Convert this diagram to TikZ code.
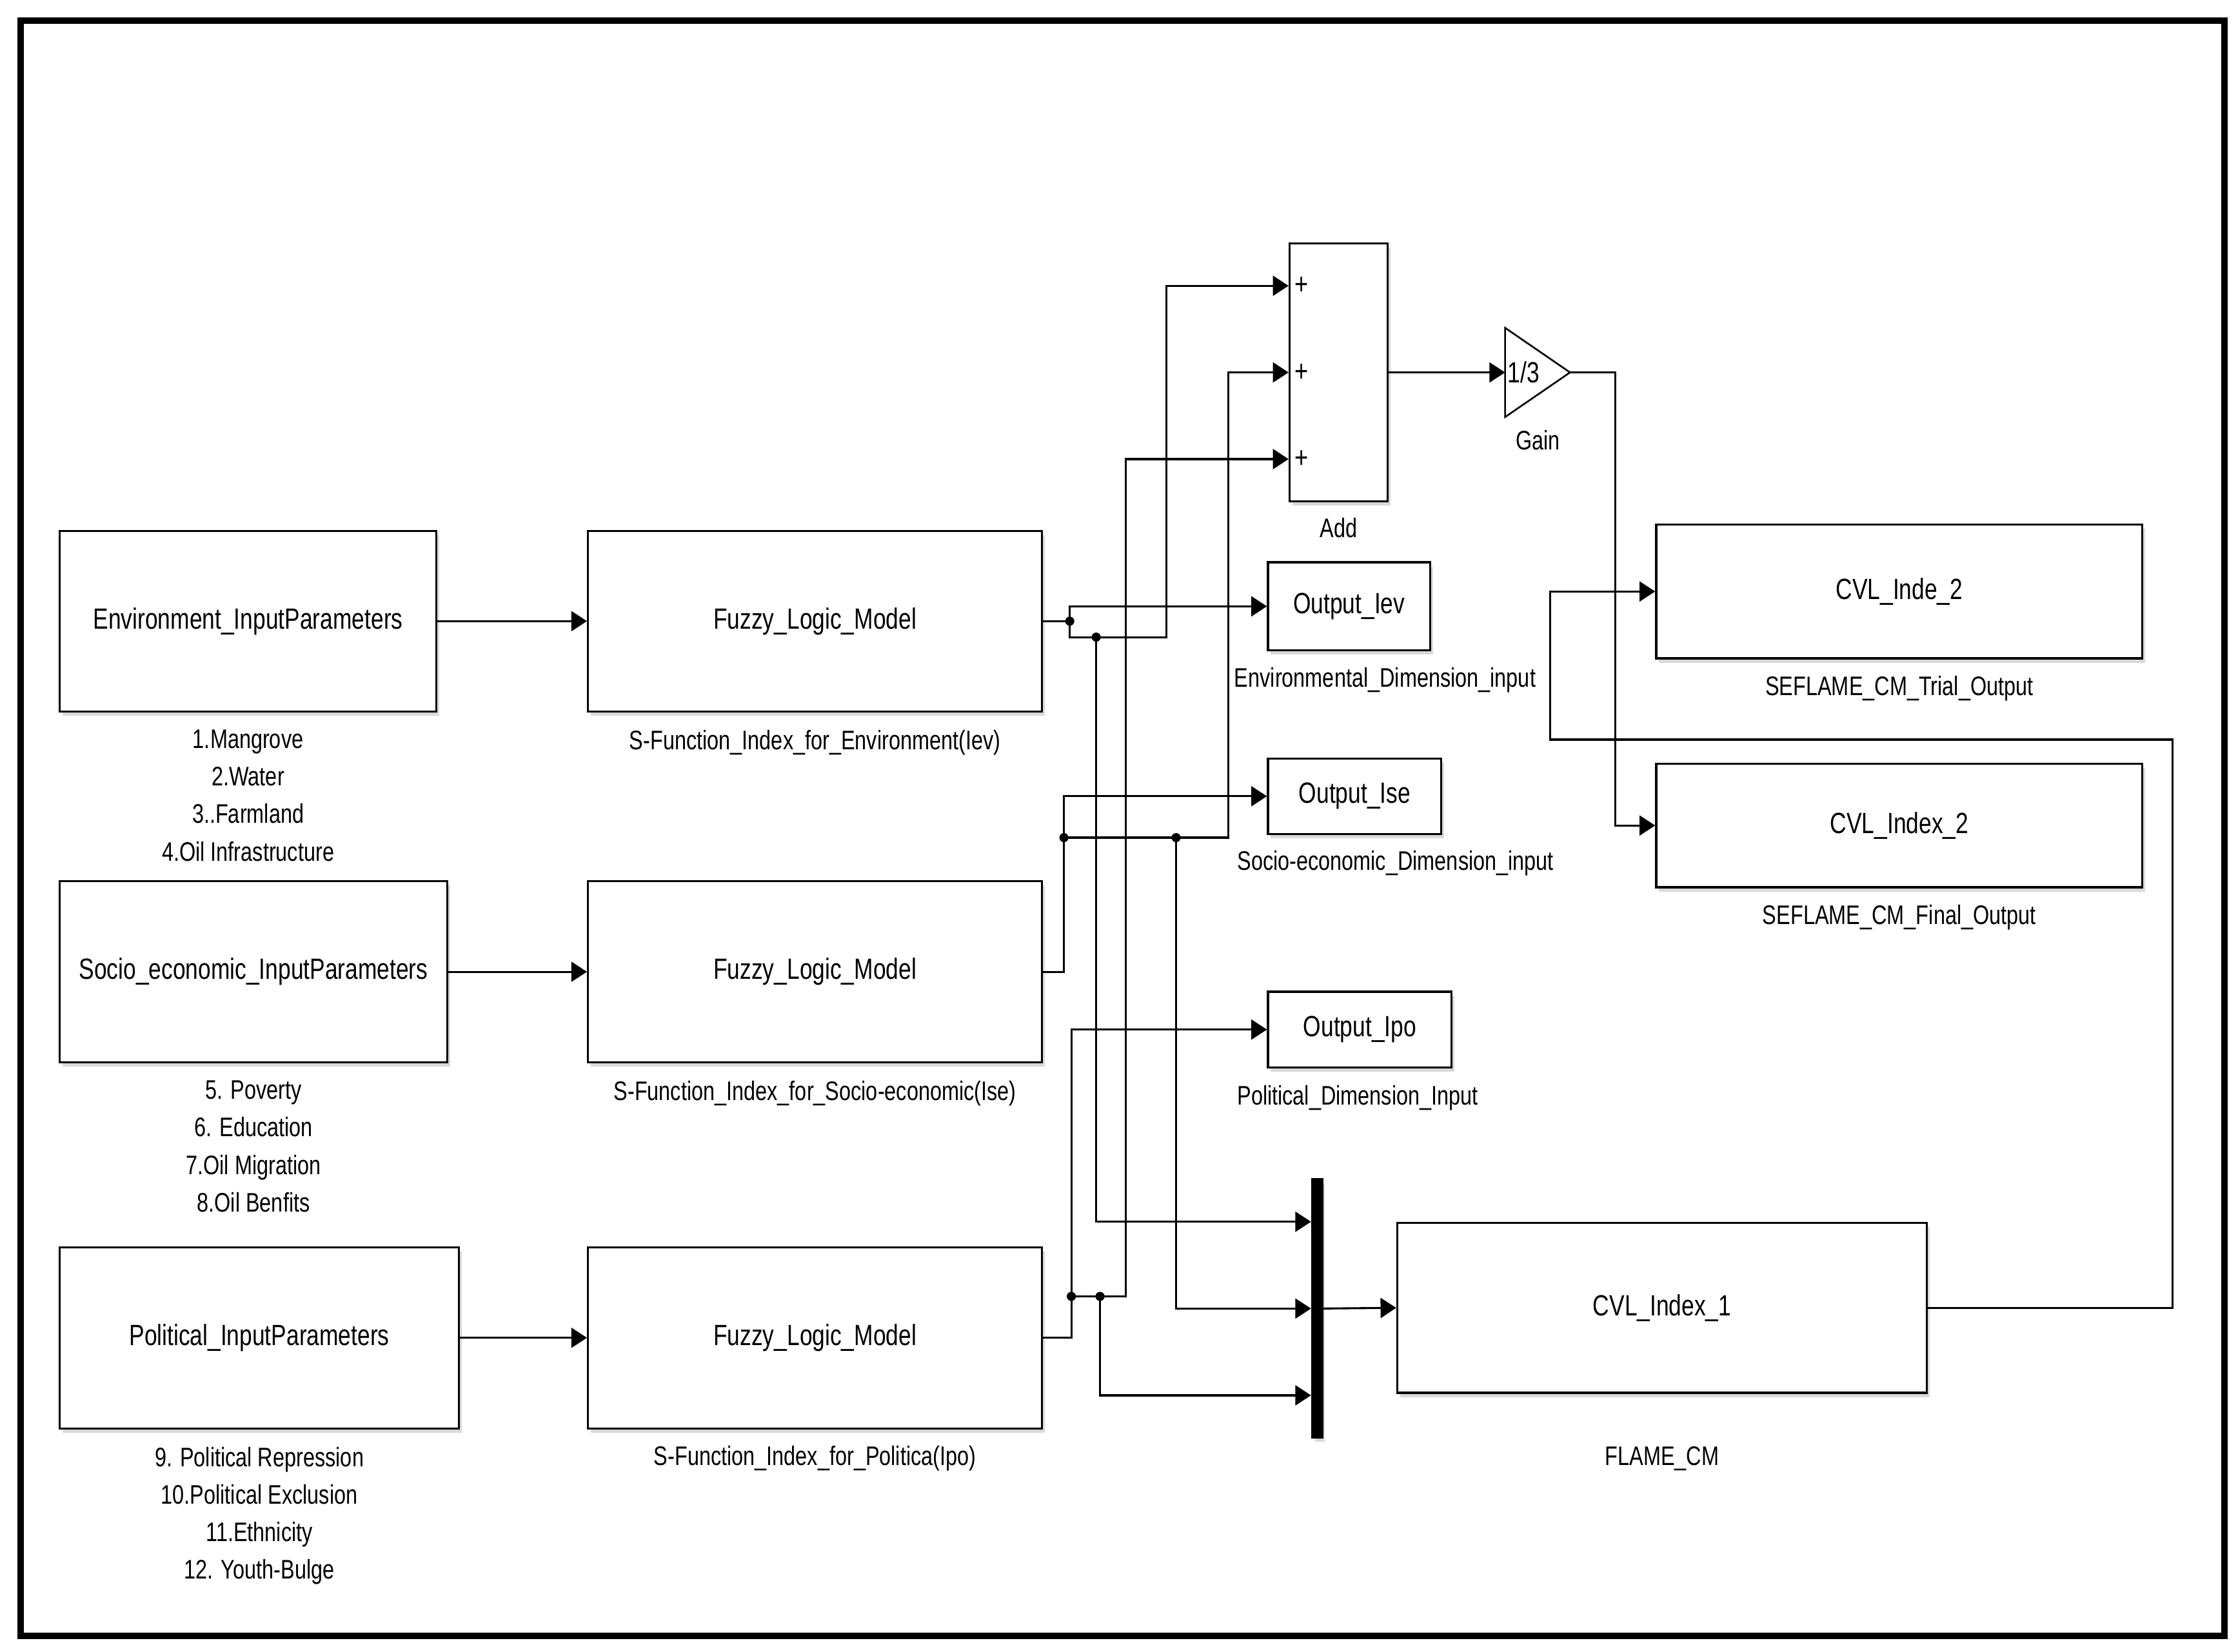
\documentclass[tikz,border=0pt]{standalone}
\usepackage{fontspec}
\setmainfont[FakeStretch=0.78]{Liberation Sans}
\usetikzlibrary{calc}
\usetikzlibrary{positioning}
\usetikzlibrary{shadows}
\usetikzlibrary{arrows.meta}

\begin{document}
\begin{tikzpicture}[x=1pt, y=-1pt, font=\fontsize{20.5}{26.3}\selectfont,
  blk/.style={draw, line width=1.5pt, fill=white, inner sep=0pt,
    drop shadow={shadow xshift=2pt, shadow yshift=-3pt, opacity=.3}},
  lbl/.style={inner sep=0pt, align=center, font=\fontsize{18.8}{26.3}\selectfont},
  wire/.style={line width=1.4pt},
  >={Triangle[length=11pt,width=14pt]}]
\useasboundingbox (0,0) rectangle (1568,1157.7);
\draw[line width=4.5pt] (14.5,14.5) rectangle (1558.7,1146.4);

% input blocks and fuzzy models
\node[blk, minimum width=264pt, minimum height=126.5pt] (env) at (173.8,435.3) {Environment\_InputParameters};
\node[blk, minimum width=271.6pt, minimum height=126.8pt] (soc) at (177.6,681) {Socio\_economic\_InputParameters};
\node[blk, minimum width=279.8pt, minimum height=127pt] (pol) at (181.7,937.5) {Political\_InputParameters};
\node[blk, minimum width=318pt, minimum height=126.5pt] (fz1) at (571,435.3) {Fuzzy\_Logic\_Model};
\node[blk, minimum width=318pt, minimum height=126.8pt] (fz2) at (571,681) {Fuzzy\_Logic\_Model};
\node[blk, minimum width=318pt, minimum height=127pt] (fz3) at (571,937.5) {Fuzzy\_Logic\_Model};

\node[lbl, below=12pt of env] (envlist) {1.Mangrove\\2.Water\\3..Farmland\\4.Oil Infrastructure};
\node[lbl, below=12pt of soc] (soclist) {5. Poverty\\6. Education\\7.Oil Migration\\8.Oil Benfits};
\node[lbl, below=12pt of pol] (pollist) {9. Political Repression\\10.Political Exclusion\\11.Ethnicity\\12. Youth-Bulge};
\node[lbl, below=12pt of fz1] (fz1lbl) {S-Function\_Index\_for\_Environment(Iev)};
\node[lbl, below=12pt of fz2] (fz2lbl) {S-Function\_Index\_for\_Socio-economic(Ise)};
\node[lbl, below=11.5pt of fz3] (fz3lbl) {S-Function\_Index\_for\_Politica(Ipo)};

% sum, gain, outputs
\node[blk, minimum width=68.5pt, minimum height=180.7pt] (add) at (937.8,261) {};
\node[lbl, below=10.8pt of add] (addlbl) {Add};
\node[blk, minimum width=113.6pt, minimum height=61.7pt] (oiev) at (945.2,424.9) {Output\_Iev};
\node[blk, minimum width=121.4pt, minimum height=52.9pt] (oise) at (949.1,558) {Output\_Ise};
\node[blk, minimum width=128.6pt, minimum height=53pt] (oipo) at (952.7,721.5) {Output\_Ipo};
\node[lbl, anchor=north west] (ievlbl) at ([xshift=-23pt,yshift=-11pt]oiev.south west) {Environmental\_Dimension\_input};
\node[lbl, anchor=north west] (iselbl) at ([xshift=-21pt,yshift=-11pt]oise.south west) {Socio-economic\_Dimension\_input};
\node[lbl, anchor=north west] (ipolbl) at ([xshift=-21pt,yshift=-11.5pt]oipo.south west) {Political\_Dimension\_Input};

\node[blk, fill=black, minimum width=7pt, minimum height=181pt] (mux) at (922.8,917) {};
\node[blk, minimum width=371pt, minimum height=119pt] (cvl1) at (1164.5,916.5) {CVL\_Index\_1};
\node[lbl, below=37pt of cvl1] (flamelbl) {FLAME\_CM};
\node[blk, minimum width=340.6pt, minimum height=93.7pt] (cvlt) at (1330.7,414.5) {CVL\_Inde\_2};
\node[lbl, below=11.5pt of cvlt] (triallbl) {SEFLAME\_CM\_Trial\_Output};
\node[blk, minimum width=340.6pt, minimum height=86.5pt] (cvl2) at (1330.7,578.5) {CVL\_Index\_2};
\node[lbl, below=11.5pt of cvl2] (finallbl) {SEFLAME\_CM\_Final\_Output};

\coordinate (gain) at (1054.5,261);
\coordinate (gout) at (1100,261);
\draw[line width=1.2pt] (gain) ++(0,-31.25) -- (gout) -- ($(gain)+(0,31.25)$) -- cycle;
\node[inner sep=0pt] (gainval) at ($(gain)+(13,0)$) {1/3};
\node[lbl] (gainlbl) at ($(gain)+(23,47.5)$) {Gain};

% ports
\foreach \i/\f in {1/0.1667, 2/0.5, 3/0.8333} {
  \coordinate (a\i) at ($(add.north west)!\f!(add.south west)$);
  \coordinate (m\i) at ($(mux.north west)!\f!(mux.south west)$);
  \node[inner sep=0pt, font=\fontsize{21}{21}\selectfont] (plus\i) at ($(a\i)+(9,0)$) {+};
}

% branch points
\coordinate (dA) at (749.5,435.3);
\coordinate (dB) at (768,446.5);
\coordinate (dC) at (745.4,587);
\coordinate (dD) at (824,587);
\coordinate (dE) at (750.6,908.5);
\coordinate (dF) at (770.7,908.5);
\coordinate (fbk) at (1086,518.3);

\draw[wire,->] (env) -- (fz1);
\draw[wire,->] (soc) -- (fz2);
\draw[wire,->] (pol) -- (fz3);

\draw[wire] (fz1.east) -- (dA);
\draw[wire,->] (dA) |- (oiev.west);
\draw[wire,->] (dA) |- (dB) -- ++(49,0) |- (a1);
\draw[wire,->] (dB) |- (m1);

\draw[wire,->] (fz2.east) -| (dC) |- (oise.west);
\draw[wire,->] (dC) -- (dD) -- ++(36.5,0) |- (a2);
\draw[wire,->] (dD) |- (m2);

\draw[wire,->] (fz3.east) -| (dE) |- (oipo.west);
\draw[wire,->] (dE) -- (dF) -- ++(18,0) |- (a3);
\draw[wire,->] (dF) |- (m3);

\foreach \d in {dA,dB,dC,dD,dE,dF} \fill (\d) circle (3.2pt);

\draw[wire,->] (add.east) -- (gain);
\draw[wire,->] (gout) -- ++(31.7,0) |- (cvl2.west);
\draw[wire,->] (mux.east) -- (cvl1.west);
\draw[wire,->] (cvl1.east) -- ++(171.5,0) |- (fbk) |- (cvlt.west);
\end{tikzpicture}
\end{document}
